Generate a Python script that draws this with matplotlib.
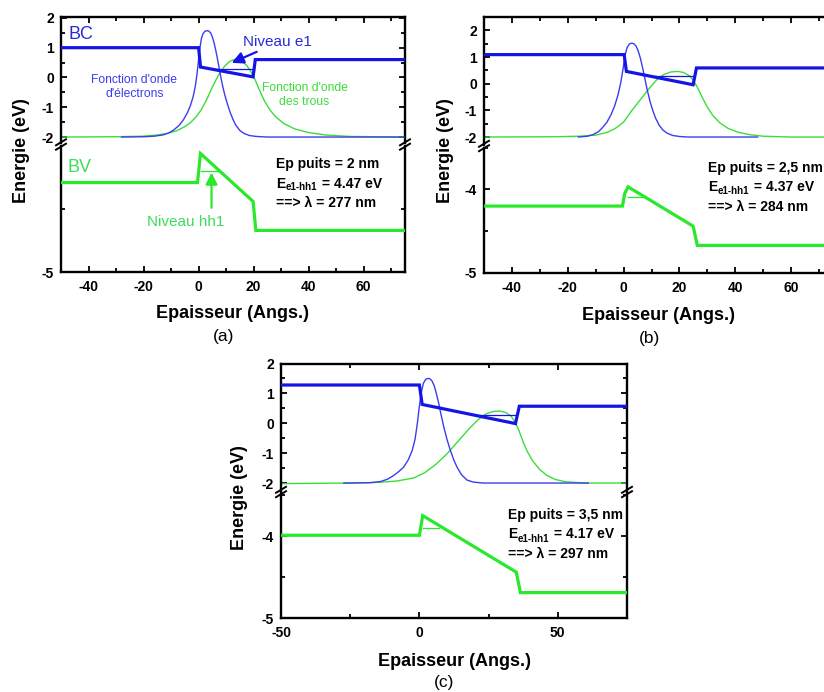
import matplotlib
matplotlib.use("Agg")
import matplotlib.pyplot as plt
from matplotlib.lines import Line2D
from matplotlib.ticker import MultipleLocator, FixedLocator

plt.rcParams['font.family'] = ['Liberation Sans', 'DejaVu Sans']
plt.rcParams['axes.unicode_minus'] = False

# ---------------- data ----------------
# Panel (a)  Ep puits = 2 nm
a_bc_x = [-50, 0, 0.7, 19.8, 20.6, 75]
a_bc_E = [1.0, 1.0, 0.35, 0.02, 0.6, 0.6]
a_e1_x = [5, 20]
a_e1_E = [0.28, 0.28]
a_el_x = [-28, -20, -16, -13, -11, -9, -7, -5.5, -4, -3, -2, -1.2, -0.6, 0, 0.5, 1.0, 1.6, 2.3, 3.0,
          3.7, 4.4, 5.0, 5.6, 6.2, 6.8, 7.4, 8.0, 8.7, 9.5, 10.5, 11.5, 12.5, 13.5, 15, 16.5, 18.5,
          21, 25, 75]
a_el_E = [-2.0, -1.99, -1.97, -1.93, -1.87, -1.76, -1.6, -1.42, -1.17, -0.95, -0.65, -0.3, 0.1,
          0.6, 1.0, 1.3, 1.47, 1.55, 1.57, 1.56, 1.49, 1.36, 1.17, 0.93, 0.65, 0.35, 0.05, -0.27,
          -0.58, -0.9, -1.18, -1.41, -1.6, -1.78, -1.88, -1.95, -1.98, -2.0, -2.0]
a_h_x = [-50, -30, -20, -15, -11, -8, -5, -3, -1, 1, 3, 5, 6.5, 8, 9.5, 11, 12.5, 13.5, 14.5, 16,
         17.5, 19, 20.5, 22, 24, 26, 28, 31, 35, 40, 46, 55, 75]
a_h_E = [-2.0, -1.99, -1.97, -1.93, -1.87, -1.79, -1.65, -1.52, -1.33, -1.08, -0.73, -0.32, -0.05,
         0.2, 0.38, 0.52, 0.59, 0.61, 0.6, 0.53, 0.4, 0.2, -0.07, -0.4, -0.8, -1.1, -1.32, -1.55,
         -1.73, -1.85, -1.93, -1.98, -2.0]
a_bv_x = [-50, -0.4, 0.7, 19.8, 20.8, 75]
a_bv_E = [-4.29, -4.29, -4.06, -4.44, -4.67, -4.67]
a_hh_x = [0.9, 6.9]
a_hh_E = [-4.2, -4.2]

# Panel (b)  Ep puits = 2,5 nm
b_bc_x = [-50, 0.2, 1.0, 24.9, 26.1, 75]
b_bc_E = [1.09, 1.09, 0.46, -0.04, 0.59, 0.59]
b_e1_x = [9.5, 24.9]
b_e1_E = [0.27, 0.27]
b_el_x = [-16.2, -13, -11, -9, -7.5, -6, -4.5, -3.2, -2, -1, -0.2, 0.5, 1.2, 2, 2.8, 3.6, 4.4, 5.2,
          6, 6.8, 7.6, 8.5, 9.5, 10.5, 11.5, 12.7, 14, 15.5, 17.5, 20, 23, 48]
b_el_E = [-2.0, -1.97, -1.91, -1.8, -1.64, -1.45, -1.16, -0.83, -0.42, 0.05, 0.55, 1.05, 1.34, 1.48,
          1.52, 1.5, 1.42, 1.24, 0.96, 0.6, 0.2, -0.25, -0.68, -1.02, -1.3, -1.55, -1.73, -1.85,
          -1.94, -1.98, -2.0, -2.0]
b_h_x = [-50, -25, -16, -10, -6, -3, 0, 3, 6, 9, 12, 14.5, 17, 19.5, 21.5, 23.5, 25, 26.5, 28, 30,
         32, 34.5, 37.5, 41, 45, 50, 60, 75]
b_h_E = [-2.0, -1.99, -1.97, -1.93, -1.83, -1.68, -1.44, -1.0, -0.6, -0.2, 0.16, 0.35, 0.44, 0.46,
         0.42, 0.3, 0.12, -0.15, -0.48, -0.88, -1.2, -1.47, -1.68, -1.82, -1.91, -1.97, -2.0, -2.0]
b_bv_x = [-50, -0.4, 0.4, 1.6, 24.9, 26.4, 75]
b_bv_E = [-4.2, -4.2, -4.05, -3.97, -4.44, -4.67, -4.67]
b_hh_x = [1.6, 7.5]
b_hh_E = [-4.09, -4.09]

# Panel (c)  Ep puits = 3,5 nm
c_bc_x = [-50, 0, 1, 34.7, 36.1, 75]
c_bc_E = [1.28, 1.28, 0.63, -0.01, 0.57, 0.57]
c_e1_x = [20.5, 34.7]
c_e1_E = [0.26, 0.26]
c_el_x = [-27.3, -18, -14, -11.5, -9.5, -7.5, -5.7, -4, -2.6, -1.6, -0.8, -0.1, 0.6, 1.4, 2.2, 3.0,
          3.8, 4.6, 5.4, 6.2, 7.0, 7.8, 8.8, 10, 11.2, 12.4, 13.6, 15.2, 17.2, 19.5, 23, 61]
c_el_E = [-2.0, -1.99, -1.95, -1.87, -1.76, -1.62, -1.47, -1.22, -0.91, -0.55, -0.05, 0.5, 0.98,
          1.33, 1.46, 1.5, 1.49, 1.41, 1.24, 0.97, 0.66, 0.3, -0.12, -0.55, -0.91, -1.22, -1.47,
          -1.72, -1.9, -1.97, -2.0, -2.0]
c_h_x = [-50, -25, -15, -8, -2, 2, 6, 10, 14, 18, 21, 24, 26.5, 29, 31, 33, 34.5, 36, 37.5, 39, 41,
         43.5, 46, 49, 53, 60, 75]
c_h_E = [-2.02, -2.0, -1.98, -1.93, -1.83, -1.65, -1.37, -1.02, -0.6, -0.18, 0.1, 0.31, 0.39, 0.41,
         0.37, 0.25, 0.05, -0.25, -0.63, -0.95, -1.27, -1.55, -1.74, -1.88, -1.96, -2.0, -2.0]
c_bv_x = [-50, 0, 1.2, 35, 36.5, 75]
c_bv_E = [-3.99, -3.99, -3.75, -4.44, -4.69, -4.69]
c_hh_x = [1.2, 7.0]
c_hh_E = [-3.90, -3.90]

info_a = ["Ep puits = 2 nm", "4.47 eV", "==> \u03bb = 277 nm"]
info_b = ["Ep puits = 2,5 nm", "4.37 eV", "==> \u03bb = 284 nm"]
info_c = ["Ep puits = 3,5 nm", "4.17 eV", "==> \u03bb = 297 nm"]

# ---------------- styling ----------------
W, H = 824, 692
DPI = 100
fig = plt.figure(figsize=(W / DPI, H / DPI), dpi=DPI)
renderer = fig.canvas.get_renderer()

BLUE = "#1414e6"
BLUE_T = "#3c3cf0"
GREEN = "#2ae82a"
GREEN_T = "#3cdc3c"
TXT_BLUE = "#2a2ad8"
TXT_GREEN = "#3ddc5a"


def rect(l, t, r, b):
    return [l / W, 1 - b / H, (r - l) / W, (b - t) / H]


def style(ax, xlim, ylim, xmaj, xmin, ymaj, ymin, top):
    ax.set_xlim(*xlim)
    ax.set_ylim(*ylim)
    ax.xaxis.set_major_locator(MultipleLocator(xmaj))
    ax.xaxis.set_minor_locator(MultipleLocator(xmin))
    ax.yaxis.set_major_locator(FixedLocator(ymaj))
    ax.yaxis.set_minor_locator(FixedLocator(ymin))
    for s in ax.spines.values():
        s.set_linewidth(1.7)
    ax.tick_params(which='both', direction='in', width=1.3, left=True, right=True,
                   labelsize=10, pad=5)
    ax.tick_params(which='major', length=4.5)
    ax.tick_params(which='minor', length=2.8)
    if top:
        ax.spines['bottom'].set_visible(False)
        ax.tick_params(which='both', top=True, bottom=False, labelbottom=False)
    else:
        ax.spines['top'].set_visible(False)
        ax.tick_params(which='both', top=False, bottom=True)
        ax.tick_params(axis='x', pad=6)
    for lab in ax.get_xticklabels() + ax.get_yticklabels():
        lab.set_fontweight('bold')


def brk(xp, yp):
    for d in (-2.2, 2.2):
        x0, y0 = xp - 5, yp + 3 + d
        x1, y1 = xp + 5, yp - 3 + d
        fig.add_artist(Line2D([x0 / W, x1 / W], [1 - y0 / H, 1 - y1 / H],
                              transform=fig.transFigure, color='black', lw=1.4))


def ftext(xp, yp, s, **kw):
    return fig.text(xp / W, 1 - yp / H, s, **kw)


def info_block(info, xy):
    ix, iy = xy
    ftext(ix, iy, info[0], fontsize=10, fontweight='bold', ha='left', va='center')
    # second line: E with subscript e1-hh1
    y2 = iy + 19.5
    t1 = ftext(ix, y2, "E", fontsize=10, fontweight='bold', ha='left', va='center')
    w1 = t1.get_window_extent(renderer).width
    t2 = ftext(ix + w1 + 0.5, y2 + 4, "e1-hh1", fontsize=7, fontweight='bold', ha='left',
               va='center')
    w2 = t2.get_window_extent(renderer).width
    ftext(ix + w1 + w2 + 1, y2, " = " + info[1], fontsize=10, fontweight='bold', ha='left',
          va='center')
    ftext(ix, iy + 39, info[2], fontsize=10, fontweight='bold', ha='left', va='center')


def panel(l, r, t_top, junc, b_bot, ylim_top, ylim_bot, xmaj, xmin, ymaj_bot,
          bc, e1, el, h, bv, hh, info, info_xy, xlabel_xy, cap, cap_xy, ylab_xy, brk_right=True):
    axt = fig.add_axes(rect(l, t_top, r, junc - 1.5))
    axb = fig.add_axes(rect(l, junc + 1.5, r, b_bot))
    axt.plot(h[0], h[1], color=GREEN_T, lw=1.0, zorder=2)
    axt.plot(el[0], el[1], color=BLUE_T, lw=1.0, zorder=3)
    axt.plot(bc[0], bc[1], color=BLUE, lw=2.3, zorder=4, solid_joinstyle='miter')
    axt.plot(e1[0], e1[1], color=BLUE, lw=0.9, zorder=4)
    axb.plot(bv[0], bv[1], color=GREEN, lw=2.3, zorder=4, solid_joinstyle='miter')
    axb.plot(hh[0], hh[1], color=GREEN, lw=0.9, zorder=4)
    style(axt, (-50, 75), ylim_top, xmaj, xmin, [-2, -1, 0, 1, 2],
          [-1.5, -0.5, 0.5, 1.5, 2.5], True)
    style(axb, (-50, 75), ylim_bot, xmaj, xmin, ymaj_bot, [-4.5, -3.5], False)
    axb.set_yticks(ymaj_bot)
    axb.set_yticklabels([f"{v:g}" for v in ymaj_bot], fontweight='bold')
    xt = [v for v in axb.get_xticks() if -50 <= v <= 75]
    axb.set_xticks(xt)
    axb.set_xticklabels([f"{v:g}" for v in xt], fontweight='bold')
    brk(l, junc)
    if brk_right:
        brk(r, junc)
    info_block(info, info_xy)
    ftext(xlabel_xy[0], xlabel_xy[1], "Epaisseur (Angs.)", fontsize=13,
          fontweight='bold', ha='center', va='center')
    ftext(cap_xy[0], cap_xy[1], cap, fontsize=12.5, ha='center', va='center')
    ftext(ylab_xy[0], ylab_xy[1], "Energie (eV)", fontsize=13,
          fontweight='bold', ha='center', va='center', rotation=90)
    return axt, axb


axt_a, axb_a = panel(61, 405, 17, 144.5, 272, (-2.2, 2.03), (-5, -4), 20, 10, [-5],
                     (a_bc_x, a_bc_E), (a_e1_x, a_e1_E), (a_el_x, a_el_E), (a_h_x, a_h_E),
                     (a_bv_x, a_bv_E), (a_hh_x, a_hh_E), info_a, (276, 164), (233, 314),
                     "(a)", (224, 337), (22, 151))
axt_b, axb_b = panel(484, 833, 17, 146, 273, (-2.28, 2.5), (-5, -3.5), 20, 10, [-5, -4],
                     (b_bc_x, b_bc_E), (b_e1_x, b_e1_E), (b_el_x, b_el_E), (b_h_x, b_h_E),
                     (b_bv_x, b_bv_E), (b_hh_x, b_hh_E), info_b, (708, 168), (658, 316),
                     "(b)", (649, 338), (446, 151), brk_right=False)
axt_c, axb_c = panel(281, 627, 363.5, 492, 618, (-2.25, 2.0), (-5, -3.48), 50, 25, [-5, -4],
                     (c_bc_x, c_bc_E), (c_e1_x, c_e1_E), (c_el_x, c_el_E), (c_h_x, c_h_E),
                     (c_bv_x, c_bv_E), (c_hh_x, c_hh_E), info_c, (508, 515), (454, 662),
                     "(c)", (444, 683), (240, 498))

# annotations of panel (a)
axt_a.text(-42.9, 1.43, "BC", color=TXT_BLUE, fontsize=13, ha='center', va='center')
axt_a.text(28.7, 1.19, "Niveau e1", color=TXT_BLUE, fontsize=11, ha='center', va='center')
axt_a.annotate("", xy=(12.0, 0.49), xytext=(21.1, 0.86),
               arrowprops=dict(arrowstyle='-|>,head_length=0.7,head_width=0.35',
                               color=BLUE, lw=1.6, shrinkA=0, shrinkB=0))
axt_a.text(-23.3, -0.32, "Fonction d'onde\nd'\u00e9lectrons", color=BLUE_T, fontsize=8.7,
           ha='center', va='center', linespacing=1.25)
axt_a.text(38.5, -0.59, "Fonction d'onde\ndes trous", color=GREEN_T, fontsize=8.7,
           ha='center', va='center', linespacing=1.25)
axb_a.text(-43.3, -4.17, "BV", color=TXT_GREEN, fontsize=13, ha='center', va='center')
axb_a.text(-4.7, -4.60, "Niveau hh1", color=TXT_GREEN, fontsize=11, ha='center', va='center')
axb_a.annotate("", xy=(4.7, -4.21), xytext=(4.7, -4.49),
               arrowprops=dict(arrowstyle='-|>,head_length=0.7,head_width=0.35',
                               color=GREEN, lw=1.6, shrinkA=0, shrinkB=0))

fig.savefig("out.png", dpi=DPI)
